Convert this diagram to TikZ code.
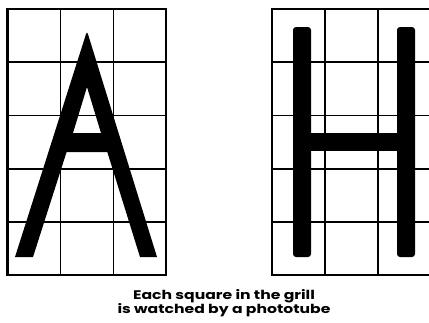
\documentclass[tikz,border=0pt]{standalone}
\usepackage{fontspec}
\setmainfont{Poppins}
\usepackage{tikz}

\begin{document}
\begin{tikzpicture}[x=1pt,y=-1pt,
    gridline/.style={black,line width=1.8pt},
    gridframe/.style={black,line width=2.4pt},
    letter/.style={fill=black}]
  \useasboundingbox (0,0) rectangle (429,322);
  % left grill
  \draw[gridframe] (7.5,9) rectangle (166,275);
  \foreach \x in {60.5,113.5} \draw[gridline] (\x,9) -- (\x,275);
  \foreach \y in {62.2,115.4,168.6,221.8} \draw[gridline] (7.5,\y) -- (166,\y);
  % right grill, cut off at the right
  \draw[gridframe] (272,9) rectangle (431,275);
  \foreach \x in {325,378} \draw[gridline] (\x,9) -- (\x,275);
  \foreach \y in {62.2,115.4,168.6,221.8} \draw[gridline] (272,\y) -- (431,\y);
  % letter A
  \fill[letter,even odd rule] (15,257) [rounded corners=3pt] -- (87,31) [sharp corners] -- (157,257)
    -- (140,257) -- (107.3,152) -- (66.6,152) -- (33,257) -- cycle
    (73,133) -- (101,133) -- (87,87) -- cycle;
  % letter H
  \fill[letter,rounded corners=3pt] (293,27) rectangle (311,257);
  \fill[letter,rounded corners=3pt] (397,27) rectangle (415,257);
  \fill[letter] (310,133) rectangle (398,151);
  % caption
  \node[font=\fontsize{12.5}{14}\selectfont\bfseries,align=center,anchor=base,xscale=1.25] (caption) at (224,313)
    {Each square in the grill\\is watched by a phototube};
\end{tikzpicture}
\end{document}
